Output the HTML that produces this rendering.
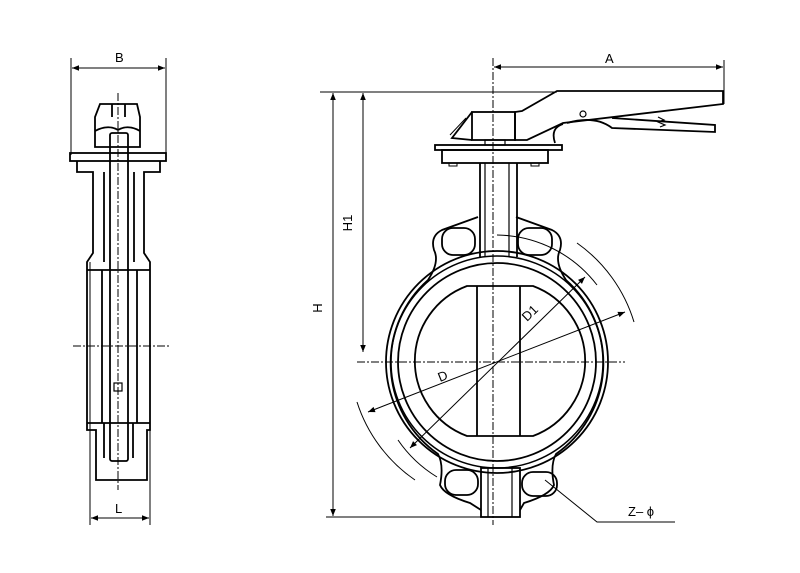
<!DOCTYPE html>
<html><head><style>html,body{margin:0;padding:0;background:#fff}svg{display:block}</style></head>
<body>
<svg width="800" height="573" viewBox="0 0 800 573" xmlns="http://www.w3.org/2000/svg" font-family="Liberation Sans, sans-serif">
<defs>
<marker id="ar" viewBox="0 0 10 10" refX="10" refY="5" markerWidth="9" markerHeight="7" orient="auto-start-reverse" markerUnits="userSpaceOnUse"><path d="M0,1 L10,5 L0,9 z" fill="#000"/></marker>
</defs>
<g stroke="#000" fill="none" stroke-width="1.8">
<!-- LEFT VIEW -->
<g stroke-width="1">
<line x1="71" y1="58" x2="71" y2="155"/><line x1="166" y1="58" x2="166" y2="155"/>
<line x1="72" y1="68" x2="165" y2="68" marker-start="url(#ar)" marker-end="url(#ar)"/>
<line x1="90" y1="262" x2="90" y2="525"/><line x1="150" y1="262" x2="150" y2="525"/>
<line x1="91" y1="518" x2="149" y2="518" marker-start="url(#ar)" marker-end="url(#ar)"/>
<line x1="118" y1="93" x2="118" y2="490" stroke-dasharray="8,2,2,2"/>
<line x1="73" y1="346" x2="170" y2="346" stroke-dasharray="8,2,2,2"/>
</g>
<path d="M100,104 L137,104 L140,117 L140,147 L95,147 L95,117 Z"/>
<path d="M95,131 Q108,124 118,130 Q128,124 140,131"/>
<line x1="112" y1="104" x2="112" y2="117"/><line x1="125" y1="104" x2="125" y2="117"/>
<rect x="70" y="153" width="96" height="8"/>
<path d="M77,161 L77,172 L93,172 L93,253 L87,262 L87,430 L96,430 L96,480 L147,480 L147,430 L150,430 L150,262 L144,253 L144,172 L160,172 L160,161"/>
<rect x="110" y="133" width="18" height="328" rx="2"/>
<line x1="104" y1="172" x2="104" y2="262"/><line x1="134" y1="172" x2="134" y2="262"/>
<line x1="87" y1="270" x2="150" y2="270"/>
<line x1="102" y1="270" x2="102" y2="423"/><line x1="137" y1="270" x2="137" y2="423"/>
<line x1="87" y1="423" x2="150" y2="423"/>
<line x1="104" y1="423" x2="104" y2="458"/><line x1="133" y1="423" x2="133" y2="458"/>
<rect x="114" y="383" width="8" height="8" stroke-width="1.2"/>

<!-- RIGHT VIEW dims -->
<g stroke-width="1">
<line x1="320" y1="92" x2="557" y2="92"/>
<line x1="326" y1="517" x2="481" y2="517"/>
<line x1="333" y1="93" x2="333" y2="516" marker-start="url(#ar)" marker-end="url(#ar)"/>
<line x1="363" y1="93" x2="363" y2="352" marker-start="url(#ar)" marker-end="url(#ar)"/>
<line x1="724" y1="60" x2="724" y2="104"/>
<line x1="494" y1="67" x2="723" y2="67" marker-start="url(#ar)" marker-end="url(#ar)"/>
<line x1="493" y1="58" x2="493" y2="525" stroke-dasharray="8,2,2,2"/>
<line x1="357" y1="362" x2="625" y2="362" stroke-dasharray="8,2,2,2"/>
<line x1="368" y1="412" x2="625" y2="312" marker-start="url(#ar)" marker-end="url(#ar)"/>
<line x1="410" y1="448" x2="585" y2="277" marker-start="url(#ar)" marker-end="url(#ar)"/>
<path d="M497,235 A128,128 0 0 1 597,285"/>
<path d="M577,243 A150,150 0 0 1 634,322"/>
<path d="M357,402 A150,150 0 0 0 415,480"/>
<path d="M398,440 A128,128 0 0 0 437,477"/>
<polyline points="545,480 597,522 675,522"/>
</g>
<!-- handle -->
<path d="M557,91 L723,91 L723,104 L563,123 L527,140 L515,140 L515,112 L522,111 Z"/>
<rect x="472" y="112" width="43" height="28"/>
<path d="M472,112 L452,138 L472,140"/>
<line x1="466" y1="118" x2="450" y2="135" stroke-width="1"/>
<circle cx="583" cy="114" r="3" stroke-width="1.2"/>
<path d="M563,124 Q550,128 555,143 M567,123 Q595,115 612,128 L715,132 L715,125 L612,118"/>
<path d="M658,117 L664,120 L658,122 L665,125 L660,127" stroke-width="1.2"/>
<rect x="435" y="145" width="127" height="5"/>
<rect x="442" y="150" width="106" height="13"/>
<rect x="485" y="140" width="20" height="5" stroke-width="1.2"/>
<rect x="449" y="163" width="8" height="3" stroke-width="1"/><rect x="531" y="163" width="8" height="3" stroke-width="1"/>
<!-- stem -->
<path d="M480,163 L480,257 M517,163 L517,257"/>
<path d="M485,163 L485,257 M509,163 L509,257" stroke-width="1.2"/>
<!-- body -->
<path d="M478,217 L442,230 Q430,236 434,250 Q440,262 428,280 A111,111 0 0 0 438,454 Q444,465 440,485 Q444,495 470,503 L481,510"/>
<path d="M516,217 L552,230 Q564,236 560,250 Q554,262 566,280 A111,111 0 0 1 556,454 Q550,465 554,485 Q550,495 524,503 L520,510"/>
<circle cx="497" cy="362" r="111"/>
<circle cx="497" cy="362" r="106" stroke-width="1.5"/>
<circle cx="497" cy="362" r="99"/>
<path d="M467,286 L533,286 A80,80 0 0 1 533,436 L467,436 A80,80 0 0 1 467,286 Z"/>
<line x1="477" y1="286" x2="477" y2="436"/><line x1="520" y1="286" x2="520" y2="436"/>
<rect x="442" y="228" width="33" height="27" rx="11"/>
<rect x="518" y="228" width="34" height="27" rx="11"/>
<rect x="445" y="470" width="33" height="25" rx="11"/>
<rect x="522" y="472" width="35" height="24" rx="11"/>
<rect x="481" y="468" width="39" height="49"/>
<line x1="488" y1="468" x2="488" y2="517" stroke-width="1.2"/><line x1="512" y1="468" x2="512" y2="517" stroke-width="1.2"/>
</g>
<g font-size="13" fill="#000">
<text x="115" y="62">B</text>
<text x="115" y="513">L</text>
<text x="605" y="63">A</text>
<text x="322" y="308" transform="rotate(-90 322 308)" text-anchor="middle">H</text>
<text x="352" y="223" transform="rotate(-90 352 223)" text-anchor="middle">H1</text>
<text x="440" y="382" transform="rotate(-22 440 382)">D</text>
<text x="527" y="322" transform="rotate(-44 527 322)">D1</text>
<text x="628" y="516">Z– ϕ</text>
</g>
</svg>
</body></html>
